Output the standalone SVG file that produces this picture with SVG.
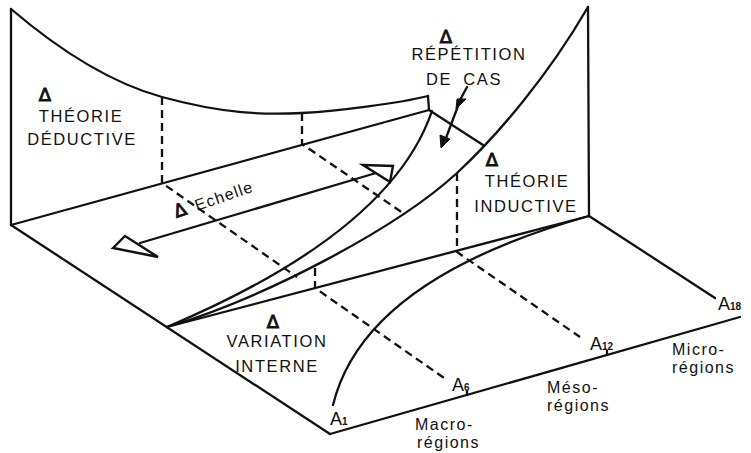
<svg xmlns="http://www.w3.org/2000/svg" width="751" height="453" viewBox="0 0 751 453">
  <style>
    .ln { fill: none; stroke: #111; stroke-width: 2.3; stroke-linecap: round; stroke-linejoin: round; }
    .ds { fill: none; stroke: #111; stroke-width: 2.3; stroke-dasharray: 8 5; }
    .head { fill: #fff; stroke: #111; stroke-width: 2.4; stroke-linejoin: miter; }
    .solid { fill: #111; stroke: #111; stroke-width: 1; }
    .t { font-family: "Liberation Sans", Arial, Helvetica, sans-serif; fill: #111; }
    .lbl { font-size: 16.5px; letter-spacing: 1.6px; text-anchor: middle; }
    .reg { font-size: 16px; letter-spacing: 1.5px; }
    .delta { font-family: "DejaVu Sans", sans-serif; font-size: 18px; text-anchor: middle; fill: #111; stroke: #111; stroke-width: 0.9; }
    .a { font-size: 18px; }
    .sub { font-size: 10px; font-weight: bold; }
  </style>
  <rect width="751" height="453" fill="#fff"/>

  <g id="frame">
    <line class="ln" x1="11" y1="9" x2="11" y2="225"/>
    <path class="ln" d="M11,9 C45,38 100,80 162,97 C224,114 265,115 302,113 C339,111 400,103 428,96"/>
    <line class="ln" x1="428" y1="96" x2="429" y2="110"/>
    <line class="ln" x1="11" y1="225" x2="429" y2="110"/>
    <line class="ln" x1="11" y1="225" x2="330" y2="434"/>
    <line class="ln" x1="330" y1="434" x2="740" y2="317"/>
    <line class="ln" x1="429" y1="110" x2="483" y2="145"/>
    <line class="ln" x1="589" y1="216" x2="715" y2="298"/>
    <line class="ln" x1="588" y1="7" x2="589" y2="216"/>
    <line class="ln" x1="467" y1="391" x2="467" y2="395"/>
    <line class="ln" x1="607" y1="351" x2="607" y2="355"/>
  </g>

  <g id="connectors">
    <line class="ln" x1="167" y1="327" x2="589" y2="216"/>
    <path class="ln" d="M167,327 C290,275 400,205 432,111"/>
    <path class="ln" d="M167,327 C267,297 397,228 457,173 C497,136 548,76 588,7"/>
    <path class="ln" d="M333,405 C355,315 450,255 589,216"/>

    <polyline class="ds" points="162,97 162,183 297,277"/>
    <polyline class="ds" points="302,113 302,144 403,213"/>
    <polyline class="ds" points="315,268 315,288 447,380"/>
    <polyline class="ds" points="457,173 457,252 580,337"/>

    <g id="echelle-arrow">
      <line class="ln" x1="140" y1="243" x2="376" y2="173"/>
      <polygon class="head" points="113,248 125,236 158,257"/>
      <polygon class="head" points="363,165 393,166 390,182"/>
    </g>

    <g id="repetition-arrow">
      <polyline class="ln" points="467,87 459,102"/>
      <polygon class="solid" points="457,99 466,99 456,109"/>
      <line class="ln" x1="458" y1="106" x2="446" y2="138"/>
      <polygon class="solid" points="440,135 450,139 441,148"/>
    </g>
  </g>

  <g id="theorie-deductive">
    <text class="delta" x="45" y="101">Δ</text>
    <text class="t lbl" x="81" y="122">THÉORIE</text>
    <text class="t lbl" x="82" y="145">DÉDUCTIVE</text>
  </g>

  <g id="repetition-de-cas">
    <text class="delta" x="446" y="43">Δ</text>
    <text class="t lbl" x="469" y="60">RÉPÉTITION</text>
    <text class="t lbl" x="464" y="85" word-spacing="5">DE CAS</text>
  </g>

  <g id="theorie-inductive">
    <text class="delta" x="492" y="166">Δ</text>
    <text class="t lbl" x="527" y="187">THÉORIE</text>
    <text class="t lbl" x="526" y="212">INDUCTIVE</text>
  </g>

  <g id="variation-interne">
    <text class="delta" x="273" y="328">Δ</text>
    <text class="t lbl" x="277" y="347">VARIATION</text>
    <text class="t lbl" x="277" y="372">INTERNE</text>
  </g>

  <g id="echelle">
    <g transform="translate(182,216) rotate(-19)">
      <text class="delta" x="0" y="0" font-size="14">Δ</text>
    </g>
    <g transform="translate(197,211) rotate(-19)">
      <text class="t" x="0" y="0" font-size="16" letter-spacing="1.2">Echelle</text>
    </g>
  </g>

  <g id="a1"><text class="t a" x="330" y="425">A<tspan class="sub">1</tspan></text></g>
  <g id="a6"><text class="t a" x="452" y="391">A<tspan class="sub">6</tspan></text></g>
  <g id="a12"><text class="t a" x="590" y="350">A<tspan class="sub">12</tspan></text></g>
  <g id="a18"><text class="t a" x="718" y="310">A<tspan class="sub">18</tspan></text></g>

  <g id="macro">
    <text class="t reg" x="415" y="430">Macro-</text>
    <text class="t reg" x="417" y="448">régions</text>
  </g>
  <g id="meso">
    <text class="t reg" x="547" y="393">Méso-</text>
    <text class="t reg" x="547" y="411">régions</text>
  </g>
  <g id="micro">
    <text class="t reg" x="672" y="355">Micro-</text>
    <text class="t reg" x="672" y="373">régions</text>
  </g>
</svg>
